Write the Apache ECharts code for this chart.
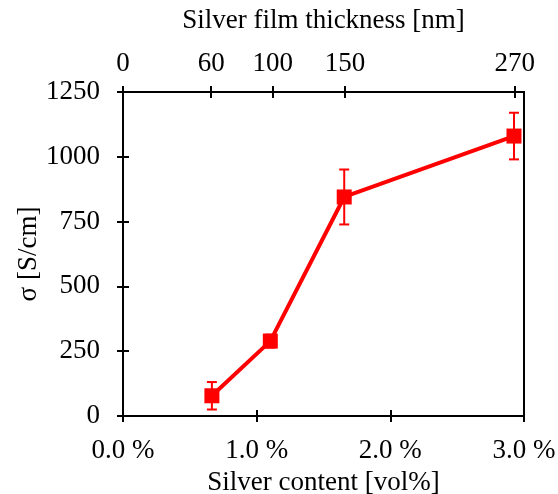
<!DOCTYPE html>
<html>
<head>
<meta charset="utf-8">
<script src="https://cdn.jsdelivr.net/npm/echarts@6/dist/echarts.min.js"></script>
<style>
  html, body { margin: 0; padding: 0; background: #fff; }
  #chart { width: 558px; height: 494px; }
</style>
</head>
<body>
<div id="chart"></div>
<script>
// silver content [vol%] vs conductivity
const contentPct = [0.665, 1.102, 1.655, 2.925];
const sigma = [78, 289, 845, 1080];
const sigmaErr = [53, 25, 106, 90];

// top axis: film thickness, placed at the matching vol% positions
const thicknessPos = [0, 0.66, 1.12, 1.66, 2.93];
const thicknessLabels = ['0', '60', '100', '150', '270'];

const FONT = 'Liberation Serif';
const RED = '#ff0000';

const points = contentPct.map((x, i) => [x, sigma[i]]);
const errData = contentPct.map((x, i) => [x, sigma[i] - sigmaErr[i], sigma[i] + sigmaErr[i]]);

const txt = { fontFamily: FONT, fontSize: 27, color: '#000' };
const line = { show: true, lineStyle: { color: '#000', width: 2 } };
const noLine = { show: false };
const tickStyle = { color: '#000', width: 2 };

function tickLabelTop(v) {
    let best = 0;
    thicknessPos.forEach((p, i) => {
        if (Math.abs(p - v) < Math.abs(thicknessPos[best] - v)) best = i;
    });
    return thicknessLabels[best];
}

const chart = echarts.init(document.getElementById('chart'));

chart.setOption({
    animation: false,
    grid: {
        left: 123, right: 34, top: 92, bottom: 78,
        outerBoundsMode: 'none', containLabel: false,
        show: true, borderColor: '#000', borderWidth: 2
    },
    xAxis: [
        {
            type: 'value', position: 'bottom', min: 0, max: 3, interval: 1,
            axisLine: line, splitLine: { show: false },
            axisTick: { inside: false, length: 6, lineStyle: tickStyle },
            axisLabel: Object.assign({ margin: 21, formatter: v => v.toFixed(1) + ' %' }, txt),
            name: 'Silver content [vol%]', nameLocation: 'middle', nameGap: 53,
            nameMoveOverlap: false,
            nameTextStyle: txt
        },
        {
            type: 'value', position: 'bottom', min: 0, max: 3, interval: 1,
            axisLine: noLine, splitLine: { show: false },
            axisTick: { inside: true, length: 6, lineStyle: tickStyle },
            axisLabel: { show: false }
        },
        {
            type: 'value', position: 'top', min: 0, max: 3,
            axisLine: line, splitLine: { show: false },
            axisTick: { inside: false, length: 6, customValues: thicknessPos, lineStyle: tickStyle },
            axisLabel: Object.assign({ margin: 15, customValues: thicknessPos, formatter: tickLabelTop }, txt),
            name: 'Silver film thickness [nm]', nameLocation: 'middle', nameGap: 58,
            nameMoveOverlap: false,
            nameTextStyle: txt
        },
        {
            type: 'value', position: 'top', min: 0, max: 3,
            axisLine: noLine, splitLine: { show: false },
            axisTick: { inside: true, length: 6, customValues: thicknessPos, lineStyle: tickStyle },
            axisLabel: { show: false }
        }
    ],
    yAxis: [
        {
            type: 'value', position: 'left', min: 0, max: 1250, interval: 250,
            axisLine: line, splitLine: { show: false },
            axisTick: { inside: false, length: 6, lineStyle: tickStyle },
            axisLabel: Object.assign({ margin: 23, formatter: v => String(v) }, txt),
            name: 'σ [S/cm]', nameLocation: 'middle', nameGap: 81,
            nameMoveOverlap: false,
            nameTextStyle: txt
        },
        {
            type: 'value', position: 'left', min: 0, max: 1250, interval: 250,
            axisLine: noLine, splitLine: { show: false },
            axisTick: { inside: true, length: 6, lineStyle: tickStyle },
            axisLabel: { show: false }
        }
    ],
    series: [
        {
            type: 'custom',
            xAxisIndex: 0, yAxisIndex: 0,
            data: errData,
            z: 1,
            renderItem: function (params, api) {
                const x = api.value(0);
                const lo = api.coord([x, api.value(1)]);
                const hi = api.coord([x, api.value(2)]);
                const w = 5;
                const style = { stroke: RED, lineWidth: 2 };
                return {
                    type: 'group',
                    children: [
                        { type: 'line', shape: { x1: lo[0], y1: lo[1], x2: hi[0], y2: hi[1] }, style: style },
                        { type: 'line', shape: { x1: lo[0] - w, y1: lo[1], x2: lo[0] + w, y2: lo[1] }, style: style },
                        { type: 'line', shape: { x1: hi[0] - w, y1: hi[1], x2: hi[0] + w, y2: hi[1] }, style: style }
                    ]
                };
            }
        },
        {
            type: 'line',
            xAxisIndex: 0, yAxisIndex: 0,
            data: points,
            z: 2,
            symbol: 'rect',
            symbolSize: 15,
            itemStyle: { color: RED },
            lineStyle: { color: RED, width: 4 }
        }
    ]
});
</script>
</body>
</html>
